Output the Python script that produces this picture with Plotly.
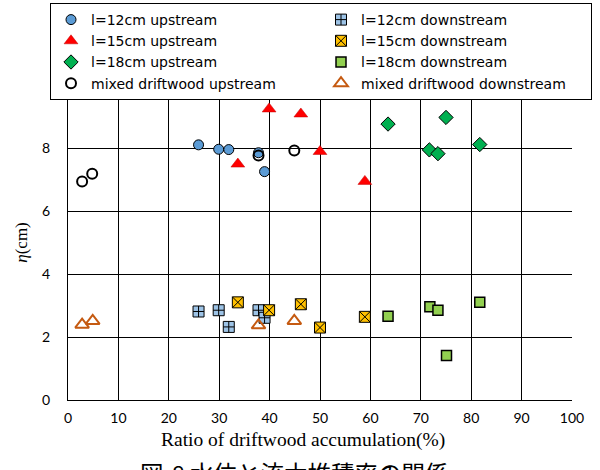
import plotly.graph_objects as go

# ---- data ----
l12_up_x = [25.9, 29.9, 31.9, 37.8, 39.0]
l12_up_y = [8.10, 7.96, 7.95, 7.85, 7.25]
l15_up_x = [33.7, 39.9, 46.2, 50.0, 58.9]
l15_up_y = [7.49, 9.24, 9.08, 7.89, 6.94]
l18_up_x = [63.5, 75.0, 71.7, 73.4, 81.7]
l18_up_y = [8.76, 8.97, 7.94, 7.82, 8.11]
mix_up_x = [2.8, 4.8, 37.8, 44.9]
mix_up_y = [6.94, 7.18, 7.76, 7.92]

l12_dn_x = [25.9, 29.9, 31.9, 37.8, 39.0]
l12_dn_y = [2.81, 2.85, 2.32, 2.85, 2.61]
l15_dn_x = [33.7, 39.9, 46.2, 50.0, 58.9]
l15_dn_y = [3.10, 2.85, 3.04, 2.30, 2.64]
l18_dn_x = [63.5, 71.8, 73.4, 81.7, 75.1]
l18_dn_y = [2.66, 2.96, 2.85, 3.10, 1.41]
mix_dn_x = [2.8, 4.9, 37.8, 44.9]
mix_dn_y = [2.39, 2.51, 2.37, 2.51]

x_ticks = [0, 10, 20, 30, 40, 50, 60, 70, 80, 90, 100]
y_ticks = [0, 2, 4, 6, 8, 10]
y_ticklabels = ["0", "2", "4", "6", "8", ""]

names = ["l=12cm upstream", "l=12cm downstream",
         "l=15cm upstream", "l=15cm downstream",
         "l=18cm upstream", "l=18cm downstream",
         "mixed driftwood upstream", "mixed driftwood downstream"]

x_title = "Ratio of driftwood accumulation(%)"
y_title = "<i>η</i>(cm)"
caption = "図-8 水位と流木堆積率の関係"

fig = go.Figure()

def add(x, y, name, marker):
    fig.add_trace(go.Scatter(x=x, y=y, mode="markers", name=name, marker=marker,
                             cliponaxis=False))

add(l12_up_x, l12_up_y, names[0],
    dict(symbol="circle", size=10, color="#5B9BD5", line=dict(color="#000000", width=1)))
add(l12_dn_x, l12_dn_y, names[1],
    dict(symbol="square-cross", size=11, color="#9DC3E6", line=dict(color="#000000", width=1)))
add(l15_up_x, l15_up_y, names[2],
    dict(symbol="triangle-up", size=12, color="#FF0000", line=dict(color="#C00000", width=0.5)))
add(l15_dn_x, l15_dn_y, names[3],
    dict(symbol="square-x", size=11, color="#FFC000", line=dict(color="#000000", width=1)))
add(l18_up_x, l18_up_y, names[4],
    dict(symbol="diamond", size=11, color="#00B050", line=dict(color="#000000", width=1)))
add(l18_dn_x, l18_dn_y, names[5],
    dict(symbol="square", size=10, color="#92D050", line=dict(color="#000000", width=1.5)))
add(mix_up_x, mix_up_y, names[6],
    dict(symbol="circle-open", size=10, color="#000000", line=dict(color="#000000", width=2)))
add(mix_dn_x, mix_dn_y, names[7],
    dict(symbol="triangle-up-open", size=12, color="#C55A11", line=dict(color="#C55A11", width=2)))

tick_font = dict(family="Lato, Open Sans, sans-serif", size=14, color="#000000")
serif = "Liberation Serif, Times New Roman, serif"

fig.update_layout(
    width=600, height=470,
    margin=dict(l=68, r=28, t=85, b=70, autoexpand=False),
    paper_bgcolor="white", plot_bgcolor="white",
    showlegend=True,
    legend=dict(
        orientation="h",
        x=-0.0357, xanchor="left",
        y=1.2603, yanchor="top",
        entrywidth=225, entrywidthmode="pixels",
        bgcolor="white", bordercolor="#000000", borderwidth=1,
        font=dict(family="DejaVu Sans, sans-serif", size=14, color="#000000"),
        traceorder="normal",
    ),
    xaxis=dict(
        range=[0, 100], tickvals=x_ticks, ticktext=[str(v) for v in x_ticks],
        showgrid=True, gridcolor="#000000", gridwidth=1,
        showline=True, linecolor="#000000", linewidth=1, mirror=False,
        zeroline=False, ticks="", tickfont=tick_font, ticklabelstandoff=5,
    ),
    yaxis=dict(
        range=[0, 10], tickvals=y_ticks, ticktext=y_ticklabels,
        showgrid=True, gridcolor="#000000", gridwidth=1,
        showline=True, linecolor="#000000", linewidth=1,
        zeroline=False, ticks="", tickfont=tick_font, ticklabelstandoff=14,
        title=dict(text=y_title, font=dict(family=serif, size=17, color="#000000"),
                   standoff=10),
    ),
)

# x-axis title (shifted left like the reference)
fig.add_annotation(
    text=x_title, xref="paper", yref="paper",
    x=(303 - 68) / 504, y=(400 - 440) / 315, xanchor="center", yanchor="middle",
    showarrow=False, font=dict(family=serif, size=19.5, color="#000000"),
)

# figure caption, cut by the bottom edge as in the reference
fig.add_annotation(
    text=caption, xref="paper", yref="paper",
    x=(138 - 68) / 504, y=(400 - 454) / 315, xanchor="left", yanchor="top",
    showarrow=False, font=dict(family="Noto Sans CJK JP", size=23.5, color="#000000"),
)

fig.write_html("out.html")
